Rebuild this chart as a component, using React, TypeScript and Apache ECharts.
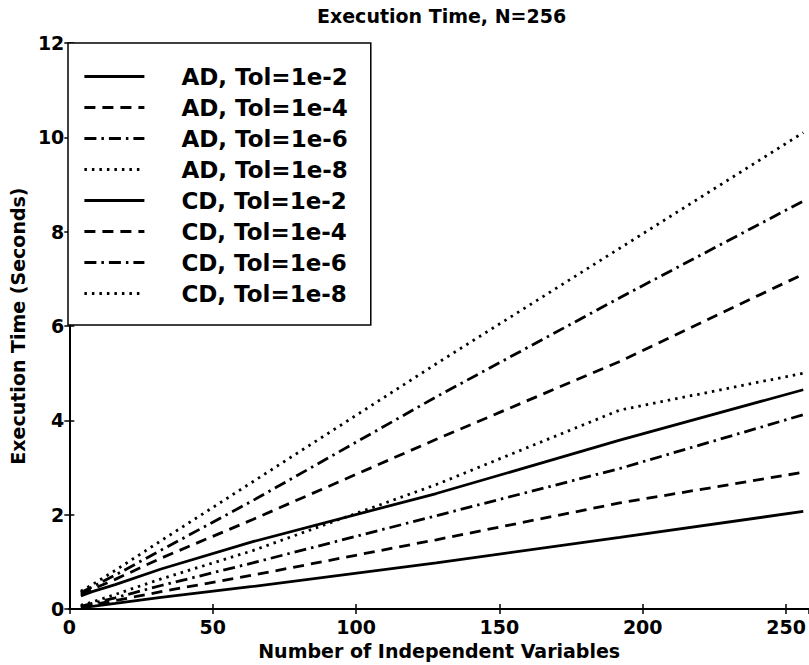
import React, { useEffect, useRef } from 'react';
import * as echarts from 'echarts';

// Number of independent variables (x positions of the data points)
const xValues = [4, 8, 16, 32, 64, 128, 192, 256];

// Execution time in seconds
const ad_1e2 = [0.03, 0.06, 0.12, 0.25, 0.48, 0.98, 1.52, 2.07];
const ad_1e4 = [0.05, 0.09, 0.18, 0.37, 0.72, 1.47, 2.25, 2.9];
const ad_1e6 = [0.06, 0.12, 0.24, 0.5, 0.98, 1.98, 2.98, 4.12];
const ad_1e8 = [0.08, 0.15, 0.31, 0.64, 1.24, 2.64, 4.22, 5.0];
const cd_1e2 = [0.28, 0.37, 0.52, 0.85, 1.43, 2.45, 3.58, 4.65];
const cd_1e4 = [0.32, 0.42, 0.63, 1.08, 1.9, 3.6, 5.25, 7.1];
const cd_1e6 = [0.35, 0.47, 0.72, 1.25, 2.3, 4.5, 6.6, 8.65];
const cd_1e8 = [0.38, 0.52, 0.82, 1.45, 2.7, 5.2, 7.65, 10.1];

const seriesNames = [
  'AD, Tol=1e-2',
  'AD, Tol=1e-4',
  'AD, Tol=1e-6',
  'AD, Tol=1e-8',
  'CD, Tol=1e-2',
  'CD, Tol=1e-4',
  'CD, Tol=1e-6',
  'CD, Tol=1e-8',
];
const seriesValues = [ad_1e2, ad_1e4, ad_1e6, ad_1e8, cd_1e2, cd_1e4, cd_1e6, cd_1e8];

const titleText = 'Execution Time, N=256';
const xAxisTitle = 'Number of Independent Variables';
const yAxisTitle = 'Execution Time (Seconds)';

const FONT = 'DejaVu Sans';

export default function App() {
  const ref = useRef<HTMLDivElement>(null);

  useEffect(() => {
    if (!ref.current) return;
    const chart = echarts.init(ref.current, null, { renderer: 'svg' });

    const styles: any[] = ['solid', [11, 7], [12, 5, 2.5, 5], [2.5, 5]];

    const series = seriesNames.map((name, i) => ({
      name,
      type: 'line',
      data: xValues.map((x, j) => [x, seriesValues[i][j]]),
      symbol: 'none',
      showSymbol: false,
      silent: true,
      lineStyle: { color: '#000', width: 2.8, type: styles[i % 4] },
      itemStyle: { color: '#000' },
      z: 2,
    }));

    const axisLine = { show: true, lineStyle: { color: '#000', width: 2 } };
    const axisTick = { show: true, inside: true, length: 5, lineStyle: { color: '#000', width: 1.5 } };
    const labelStyle = { fontFamily: FONT, fontWeight: 'bold' as const, fontSize: 19, color: '#000' };

    chart.setOption({
      animation: false,
      backgroundColor: '#fff',
      title: {
        text: titleText,
        left: 317,
        top: 6,
        padding: 0,
        textStyle: { fontFamily: FONT, fontWeight: 'bold', fontSize: 19, color: '#000' },
      },
      grid: { left: 68, top: 43, right: -1, bottom: 53, containLabel: false },
      legend: {
        orient: 'vertical',
        left: 68,
        top: 43,
        data: seriesNames,
        itemWidth: 60,
        itemHeight: 14,
        itemGap: 8,
        padding: [22, 23, 20, 15],
        borderColor: '#000',
        borderWidth: 1.5,
        backgroundColor: '#fff',
        selectedMode: false,
        itemStyle: { opacity: 0, borderWidth: 0 },
        lineStyle: { width: 2.8 },
        textStyle: {
          fontFamily: FONT,
          fontWeight: 'bold',
          fontSize: 23,
          lineHeight: 23,
          color: '#000',
          padding: [0, 0, 0, 32],
        },
        z: 10,
      },
      xAxis: [
        {
          type: 'value',
          min: 0,
          max: 258,
          interval: 50,
          position: 'bottom',
          name: xAxisTitle,
          nameLocation: 'middle',
          nameGap: 30,
          nameTextStyle: labelStyle,
          axisLine,
          axisTick,
          splitLine: { show: false },
          axisLabel: { ...labelStyle, margin: 8, showMaxLabel: false },
        },
        {
          type: 'value',
          min: 0,
          max: 258,
          interval: 50,
          position: 'top',
          axisLine,
          axisTick,
          splitLine: { show: false },
          axisLabel: { show: false },
        },
      ],
      yAxis: [
        {
          type: 'value',
          min: 0,
          max: 12,
          interval: 2,
          position: 'left',
          name: yAxisTitle,
          nameLocation: 'middle',
          nameGap: 32,
          nameTextStyle: labelStyle,
          axisLine,
          axisTick,
          splitLine: { show: false },
          axisLabel: { ...labelStyle, margin: 5 },
        },
        {
          type: 'value',
          min: 0,
          max: 12,
          interval: 2,
          position: 'right',
          axisLine,
          axisTick,
          splitLine: { show: false },
          axisLabel: { show: false },
        },
      ],
      series,
    });

    return () => chart.dispose();
  }, []);

  return (
    <div
      ref={ref}
      style={{ position: 'fixed', left: 0, top: 0, width: 809, height: 665, background: '#fff' }}
    />
  );
}
